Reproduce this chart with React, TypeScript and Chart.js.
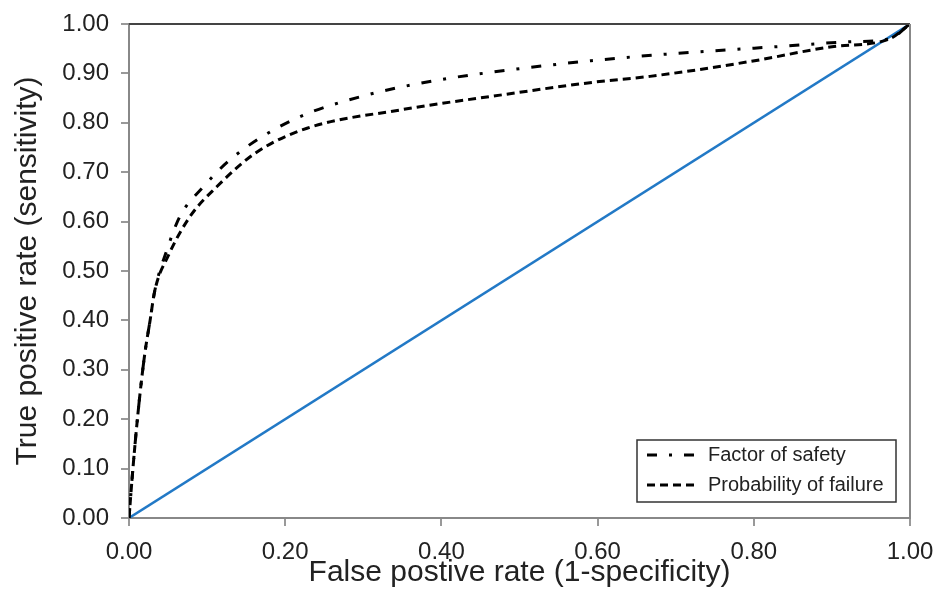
import React, { useEffect, useRef } from "react";
import { Chart, registerables } from "chart.js";

Chart.register(...registerables);

const fosX = [0, 0.005, 0.012, 0.02, 0.027, 0.033, 0.048, 0.065, 0.095, 0.133, 0.21, 0.304, 0.398, 0.492, 0.594, 0.688, 0.838, 0.923, 0.974, 1];
const fosY = [0, 0.1, 0.22, 0.33, 0.4, 0.46, 0.54, 0.61, 0.67, 0.73, 0.806, 0.856, 0.887, 0.908, 0.926, 0.939, 0.955, 0.964, 0.97, 1];
const pofX = [0, 0.005, 0.012, 0.02, 0.027, 0.033, 0.05, 0.078, 0.112, 0.163, 0.228, 0.347, 0.475, 0.599, 0.667, 0.795, 0.9, 0.974, 1];
const pofY = [0, 0.1, 0.22, 0.33, 0.4, 0.46, 0.53, 0.61, 0.67, 0.74, 0.789, 0.826, 0.856, 0.883, 0.894, 0.924, 0.954, 0.97, 1];
const refX = [0, 1];
const refY = [0, 1];

const seriesLabels = ["Factor of safety", "Probability of failure"];
const xTitle = "False postive rate (1-specificity)";
const yTitle = "True positive rate (sensitivity)";

const FONT = "'Liberation Sans', Arial, Helvetica, sans-serif";

const frameAndLegend = {
  id: "frameAndLegend",
  afterDatasetsDraw(chart: any) {
    const { ctx, chartArea } = chart;
    ctx.save();
    ctx.lineWidth = 2;
    ctx.strokeStyle = "#444";
    ctx.beginPath();
    ctx.moveTo(chartArea.left, chartArea.top);
    ctx.lineTo(chartArea.right, chartArea.top);
    ctx.stroke();
    ctx.strokeStyle = "#888";
    ctx.beginPath();
    ctx.moveTo(chartArea.right, chartArea.top);
    ctx.lineTo(chartArea.right, chartArea.bottom);
    ctx.stroke();

    // legend box
    const bx = chartArea.right - 273;
    const by = chartArea.bottom - 78;
    const bw = 259;
    const bh = 62;
    ctx.fillStyle = "#fff";
    ctx.fillRect(bx, by, bw, bh);
    ctx.lineWidth = 1.5;
    ctx.strokeStyle = "#333";
    ctx.strokeRect(bx, by, bw, bh);
    const ds = chart.data.datasets;
    [0, 1].forEach((i) => {
      const y = by + 15 + i * 30;
      ctx.beginPath();
      ctx.setLineDash(ds[i].borderDash || []);
      ctx.lineWidth = 3;
      ctx.strokeStyle = "#000";
      ctx.moveTo(bx + 10, y);
      ctx.lineTo(bx + 62, y);
      ctx.stroke();
      ctx.setLineDash([]);
      ctx.fillStyle = "#222";
      ctx.font = `20px ${FONT}`;
      ctx.textBaseline = "middle";
      ctx.textAlign = "left";
      ctx.fillText(ds[i].label, bx + 71, y);
    });
    ctx.restore();
  },
};

export default function App() {
  const ref = useRef<HTMLCanvasElement | null>(null);
  useEffect(() => {
    document.body.style.margin = "0";
    const toPts = (xs: number[], ys: number[]) => xs.map((x, i) => ({ x, y: ys[i] }));
    const chart = new Chart(ref.current as HTMLCanvasElement, {
      type: "scatter",
      data: {
        datasets: [
          {
            label: seriesLabels[0],
            data: toPts(fosX, fosY),
            showLine: true,
            borderColor: "#000",
            borderWidth: 3,
            borderDash: [10, 12, 3, 12],
            pointRadius: 0,
            cubicInterpolationMode: "monotone",
          },
          {
            label: seriesLabels[1],
            data: toPts(pofX, pofY),
            showLine: true,
            borderColor: "#000",
            borderWidth: 3,
            borderDash: [8, 5],
            pointRadius: 0,
            cubicInterpolationMode: "monotone",
          },
          {
            label: "reference",
            data: toPts(refX, refY),
            showLine: true,
            borderColor: "#2279c6",
            borderWidth: 2.5,
            pointRadius: 0,
          },
        ],
      },
      options: {
        animation: false,
        responsive: false,
        layout: { padding: { top: 24, right: 29, left: 0, bottom: 0 } },
        plugins: { legend: { display: false }, tooltip: { enabled: false } },
        scales: {
          x: {
            type: "linear",
            min: 0,
            max: 1,
            afterFit: (s: any) => { s.height = 86; s.paddingLeft = 0; s.paddingRight = 0; },
            ticks: {
              stepSize: 0.2,
              callback: (v: any) => Number(v).toFixed(2),
              font: { family: FONT, size: 24 },
              color: "#222",
              padding: 12,
              maxRotation: 0,
            },
            grid: { drawOnChartArea: false, drawTicks: true, tickLength: 8, color: "#999", lineWidth: 2 },
            border: { color: "#888", width: 2 },
            title: { display: true, text: xTitle, font: { family: FONT, size: 30 }, color: "#222", padding: { top: 0, bottom: 13 } },
          },
          y: {
            type: "linear",
            min: 0,
            max: 1,
            afterFit: (s: any) => { s.width = 129; s.paddingTop = 0; s.paddingBottom = 0; },
            ticks: {
              stepSize: 0.1,
              callback: (v: any) => Number(v).toFixed(2),
              font: { family: FONT, size: 24 },
              color: "#222",
              padding: 12,
            },
            grid: { drawOnChartArea: false, drawTicks: true, tickLength: 8, color: "#999", lineWidth: 2 },
            border: { color: "#888", width: 2 },
            title: { display: true, text: yTitle, font: { family: FONT, size: 30 }, color: "#222", padding: { top: 10, bottom: 0 } },
          },
        },
      },
      plugins: [frameAndLegend],
    });
    return () => chart.destroy();
  }, []);
  return <canvas ref={ref} width={939} height={604} style={{ display: "block" }} />;
}
